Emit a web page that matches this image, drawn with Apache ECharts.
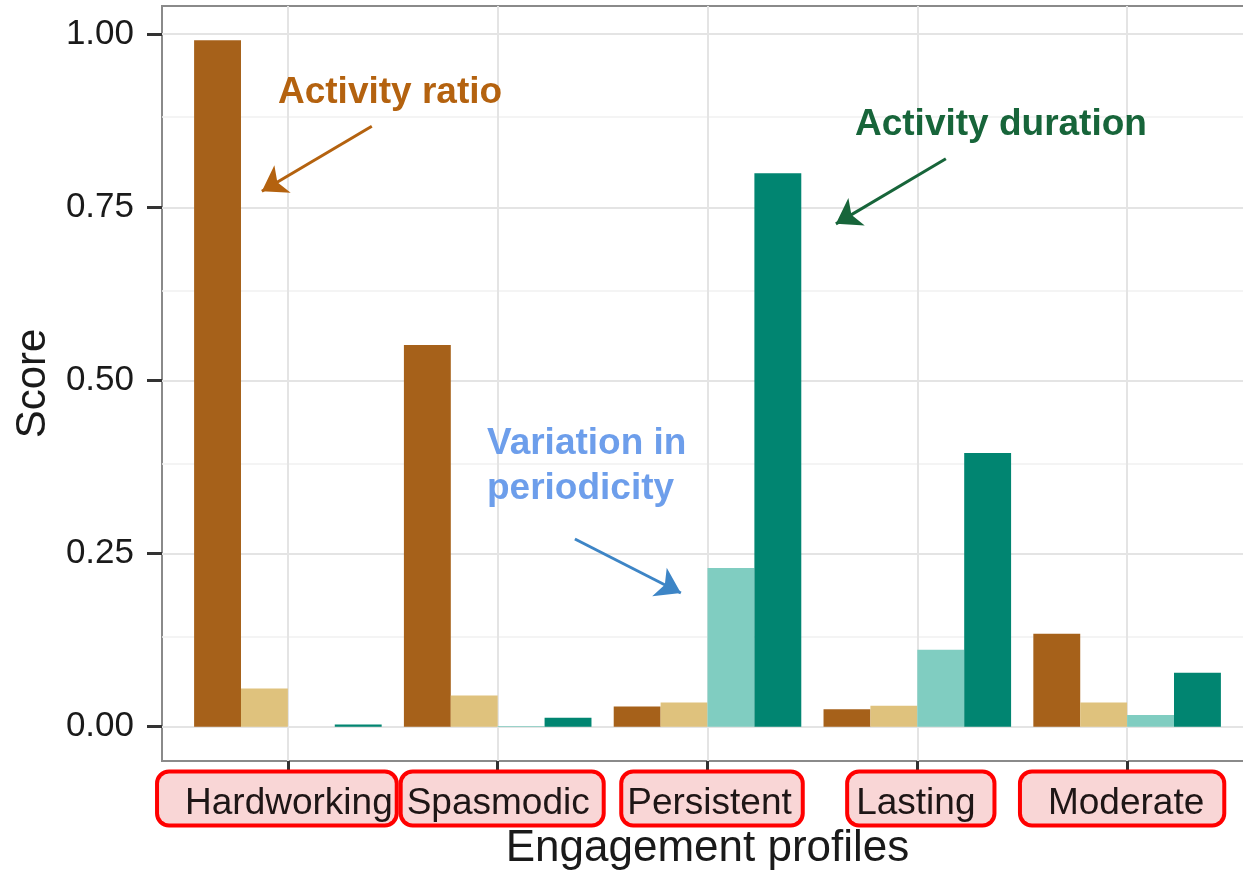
<!DOCTYPE html>
<html><head><meta charset="utf-8">
<script src="https://cdn.jsdelivr.net/npm/echarts@6/dist/echarts.min.js"></script>
<style>html,body{margin:0;padding:0;background:#fff}#c{width:1243px;height:872px}</style>
</head><body><div id="c"></div>
<script>
// ---- data ----
const categories = ['Hardworking', 'Spasmodic', 'Persistent', 'Lasting', 'Moderate'];
const activityRatio = [0.991, 0.551, 0.029, 0.025, 0.134];
const secondMetric = [0.055, 0.045, 0.035, 0.030, 0.035];
const variationInPeriodicity = [0.000, 0.001, 0.229, 0.111, 0.017];
const activityDuration = [0.003, 0.013, 0.799, 0.395, 0.078];
const yTickValues = [0, 0.25, 0.5, 0.75, 1.0];
const yTickLabels = ['0.00', '0.25', '0.50', '0.75', '1.00'];
const yMinorValues = [0.125, 0.375, 0.625, 0.875];
const categoryPositions = [1, 2, 3, 4, 5];
// annotation arrows in data space: [x0, y0, x1, y1]
const arrowOrange = [1.400, 0.867, 0.876, 0.773];
const arrowGreen = [4.136, 0.820, 3.612, 0.726];
const arrowBlue = [2.368, 0.271, 2.873, 0.193];

// ---- styles ----
const FONT = "'Liberation Sans', Arial, Helvetica, sans-serif";
const colors = ['#a6611a', '#dfc27d', '#80cdc1', '#018571'];
const boxBase = {fontSize: 37, lineHeight: 37, fontFamily: FONT, color: '#1e1616',
  backgroundColor: '#f9d6d6', borderColor: '#ff0000', borderWidth: 4, borderRadius: 10};
const spBase = {fontSize: 37, lineHeight: 37, fontFamily: FONT};
const labelFormats = [
  (t) => '{b0|' + t + '}{s22| }',
  (t) => '{s9| }{b1|' + t + '}',
  (t) => '{s9| }{b2|' + t + '}',
  (t) => '{s7| }{b3|' + t + '}',
  (t) => '{b4|' + t + '}{s10| }'
];
const richStyles = {
  b0: Object.assign({}, boxBase, {padding: [12, 2, 1, 26]}),
  b1: Object.assign({}, boxBase, {padding: [12, 12, 1, 4]}),
  b2: Object.assign({}, boxBase, {padding: [12, 9, 1, 4]}),
  b3: Object.assign({}, boxBase, {padding: [12, 17, 1, 7]}),
  b4: Object.assign({}, boxBase, {padding: [12, 18, 1, 26]}),
  s22: Object.assign({}, spBase, {width: 22}),
  s9: Object.assign({}, spBase, {width: 9}),
  s7: Object.assign({}, spBase, {width: 7}),
  s10: Object.assign({}, spBase, {width: 10})
};
// odd / even categories go on two overlapping axes so their labels never collide
const oddPositions = categoryPositions.filter((p, i) => i % 2 === 0);
const evenPositions = categoryPositions.filter((p, i) => i % 2 === 1);

const toXY = (arr) => arr.map((v, i) => [categoryPositions[i], v]);

const barCommon = {type: 'bar', barGap: '0%', barCategoryGap: '10.6%', z: 2};

const gridLineData = [];
yMinorValues.forEach(v => gridLineData.push({yAxis: v, lineStyle: {color: '#f1f1f1', width: 1.5, type: 'solid'}}));
yTickValues.forEach(v => gridLineData.push({yAxis: v, lineStyle: {color: '#e4e4e4', width: 2, type: 'solid'}}));
categoryPositions.forEach(v => gridLineData.push({xAxis: v, lineStyle: {color: '#e4e4e4', width: 2, type: 'solid'}}));

function arrowItem(a, color) {
  return [
    {coord: [a[0], a[1]], lineStyle: {color: color, width: 3, type: 'solid'}, itemStyle: {color: color}},
    {coord: [a[2], a[3]], lineStyle: {color: color, width: 3, type: 'solid'}, itemStyle: {color: color}}
  ];
}

function makeXAxis(positions, withName) {
  const ax = {
    type: 'value', min: 0.4, max: 5.6, position: 'bottom', offset: 0,
    axisLine: {show: false, onZero: false},
    splitLine: {show: false},
    axisTick: {show: true, customValues: positions, length: 15, lineStyle: {color: '#333', width: 3}},
    axisLabel: {
      customValues: positions, margin: 19, showMinLabel: true, showMaxLabel: true,
      hideOverlap: false,
      formatter: function (v) {
        const i = Math.round(v) - 1;
        return labelFormats[i](categories[i]);
      },
      rich: richStyles
    }
  };
  if (withName) {
    Object.assign(ax, {
      name: 'Engagement profiles', nameLocation: 'middle', nameGap: 66, nameMoveOverlap: false,
      nameTextStyle: {fontSize: 44, fontFamily: FONT, color: '#1a1a1a'}
    });
  }
  return ax;
}

const chart = echarts.init(document.getElementById('c'), null, {renderer: 'canvas'});
chart.setOption({
  animation: false,
  backgroundColor: '#ffffff',
  grid: {left: 162, top: 6, width: 1091, height: 755, show: true,
    borderColor: '#8a8a8a', borderWidth: 2, backgroundColor: '#ffffff',
    containLabel: false, outerBoundsMode: 'none'},
  xAxis: [makeXAxis(oddPositions, true), makeXAxis(evenPositions, false)],
  yAxis: {
    type: 'value', min: -0.0496, max: 1.0406,
    name: 'Score', nameLocation: 'middle', nameGap: 108, nameMoveOverlap: false,
    nameTextStyle: {fontSize: 42, fontFamily: FONT, color: '#1a1a1a'},
    axisLine: {show: false, onZero: false},
    splitLine: {show: false},
    axisTick: {show: true, customValues: yTickValues, length: 15, lineStyle: {color: '#333', width: 3}},
    axisLabel: {
      customValues: yTickValues, margin: 28, fontSize: 35, fontFamily: FONT, color: '#1a1a1a',
      hideOverlap: false,
      formatter: function (v) {
        let best = 0;
        yTickValues.forEach((t, i) => { if (Math.abs(t - v) < Math.abs(yTickValues[best] - v)) best = i; });
        return yTickLabels[best];
      }
    }
  },
  series: [
    {type: 'line', name: 'gridlines', data: [], silent: true,
      markLine: {silent: true, z: 0, symbol: ['none', 'none'], label: {show: false}, animation: false,
        data: gridLineData}},
    Object.assign({}, barCommon, {name: 'Activity ratio', data: toXY(activityRatio), itemStyle: {color: colors[0]}}),
    Object.assign({}, barCommon, {name: 'Metric 2', data: toXY(secondMetric), itemStyle: {color: colors[1]}}),
    Object.assign({}, barCommon, {name: 'Variation in periodicity', data: toXY(variationInPeriodicity), itemStyle: {color: colors[2]}}),
    Object.assign({}, barCommon, {name: 'Activity duration', data: toXY(activityDuration), itemStyle: {color: colors[3]}}),
    {type: 'line', name: 'annotations', data: [], silent: true,
      markLine: {silent: true, z: 6, symbol: ['none', 'arrow'], symbolSize: 24, label: {show: false},
        animation: false,
        data: [arrowItem(arrowOrange, '#b4620f'), arrowItem(arrowGreen, '#17653a'), arrowItem(arrowBlue, '#3d85c6')]}}
  ],
  graphic: [
    {type: 'text', left: 278, top: 74, z: 10, style: {text: 'Activity ratio', font: "bold 37px " + FONT, fill: '#b4620f'}},
    {type: 'text', left: 855, top: 106, z: 10, style: {text: 'Activity duration', font: "bold 37px " + FONT, fill: '#17653a'}},
    {type: 'text', left: 487, top: 425, z: 10, style: {text: 'Variation in', font: "bold 37px " + FONT, fill: '#6d9eeb'}},
    {type: 'text', left: 487, top: 470, z: 10, style: {text: 'periodicity', font: "bold 37px " + FONT, fill: '#6d9eeb'}}
  ]
});
</script>
</body></html>
